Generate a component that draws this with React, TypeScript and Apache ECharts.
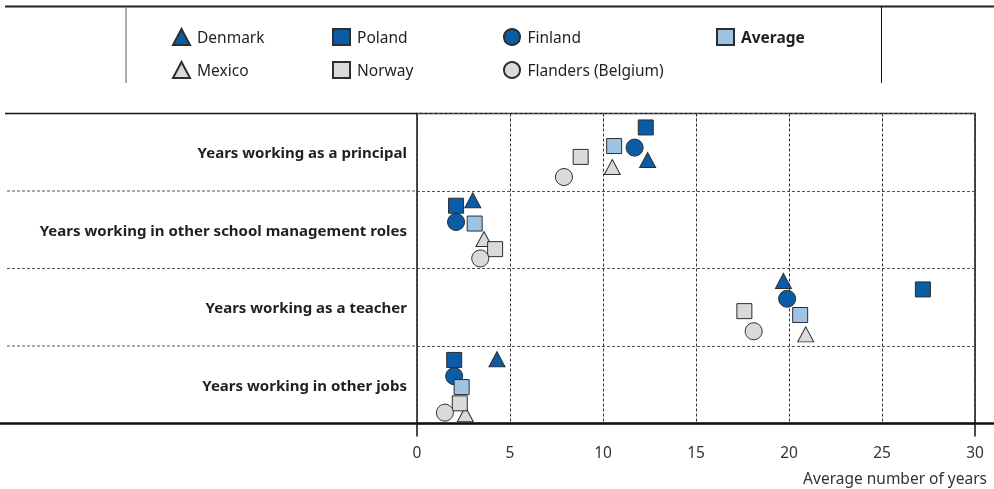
import React, { useEffect, useRef } from "react";
import * as echarts from "echarts";

const categories = [
  "Years working as a principal",
  "Years working in other school management roles",
  "Years working as a teacher",
  "Years working in other jobs",
];

const seriesNames = ["Denmark", "Poland", "Finland", "Average", "Mexico", "Norway", "Flanders (Belgium)"];

// values per category (years)
const denmark = [12.4, 3.0, 19.7, 4.3];
const poland = [12.3, 2.1, 27.2, 2.0];
const finland = [11.7, 2.1, 19.9, 2.0];
const average = [10.6, 3.1, 20.6, 2.4];
const mexico = [10.5, 3.6, 20.9, 2.6];
const norway = [8.8, 4.2, 17.6, 2.3];
const flanders = [7.9, 3.4, 18.1, 1.5];

// vertical jitter within each category band (fraction of the band)
const denmarkJitter = [0.6, 0.12, 0.16, 0.17];
const polandJitter = [0.18, 0.19, 0.27, 0.18];
const finlandJitter = [0.44, 0.4, 0.39, 0.39];
const averageJitter = [0.42, 0.42, 0.6, 0.53];
const mexicoJitter = [0.69, 0.62, 0.85, 0.88];
const norwayJitter = [0.56, 0.75, 0.55, 0.74];
const flandersJitter = [0.82, 0.87, 0.81, 0.86];

const xTicks = [0, 5, 10, 15, 20, 25, 30];

const DARK = "#0a5ca6";
const LIGHTBLUE = "#9ec3e4";
const GRAY = "#d9dadb";
const EDGE = "#2e2e2e";
const FONT = "Noto Sans";

export default function App() {
  const ref = useRef<HTMLDivElement>(null);
  useEffect(() => {
    if (!ref.current) return;
    const chart = echarts.init(ref.current, undefined, { renderer: "svg" });
    const gridTop = 113.5;
    const gridBottom = 423.5;
    const gridLeft = 417;
    const gridRight = 975;
    const band = (gridBottom - gridTop) / categories.length;

    const defs = [
      { name: seriesNames[0], vals: denmark, jit: denmarkJitter, symbol: "triangle", size: [16, 15], color: DARK },
      { name: seriesNames[1], vals: poland, jit: polandJitter, symbol: "rect", size: 15, color: DARK },
      { name: seriesNames[2], vals: finland, jit: finlandJitter, symbol: "circle", size: 17, color: DARK },
      { name: seriesNames[3], vals: average, jit: averageJitter, symbol: "rect", size: 15, color: LIGHTBLUE },
      { name: seriesNames[4], vals: mexico, jit: mexicoJitter, symbol: "triangle", size: [16, 15], color: GRAY },
      { name: seriesNames[5], vals: norway, jit: norwayJitter, symbol: "rect", size: 15, color: GRAY },
      { name: seriesNames[6], vals: flanders, jit: flandersJitter, symbol: "circle", size: 17, color: GRAY },
    ];

    const series = defs.map((d) => ({
      name: d.name,
      type: "scatter",
      xAxisIndex: 0,
      yAxisIndex: 1,
      symbol: d.symbol,
      symbolSize: d.size,
      itemStyle: { color: d.color, borderColor: EDGE, borderWidth: 1, opacity: 1 },
      data: d.vals.map((v, i) => [v, i + d.jit[i]]),
      z: 5,
    }));

    const legendPos = [
      { left: 172, top: 28 },
      { left: 332, top: 28 },
      { left: 503, top: 28 },
      { left: 716, top: 28 },
      { left: 172, top: 61 },
      { left: 332, top: 61 },
      { left: 503, top: 61 },
    ];

    const legends = defs.map((d, i) => ({
      data: [d.name],
      left: legendPos[i].left,
      top: legendPos[i].top,
      orient: "horizontal",
      itemWidth: 17,
      itemHeight: 16,
      padding: 0,
      selectedMode: false,
      textStyle: {
        fontFamily: FONT,
        fontSize: 15.5,
        color: "#231f20",
        fontWeight: d.name === "Average" ? "bold" : "normal",
        padding: [0, 0, 0, 2],
      },
    }));

    const sepLines = [1, 2, 3].map((k) => ({
      type: "line",
      shape: { x1: 7, y1: gridTop + k * band, x2: gridLeft, y2: gridTop + k * band },
      style: { stroke: "#555", lineWidth: 1, lineDash: [3, 2] },
      silent: true,
    }));

    chart.setOption({
      animation: false,
      legend: legends,
      grid: {
        left: gridLeft,
        right: 994 - gridRight,
        top: gridTop,
        bottom: 489 - gridBottom,
        show: true,
        borderColor: "#111",
        borderWidth: 1.5,
        backgroundColor: "transparent",
      },
      xAxis: {
        type: "value",
        min: xTicks[0],
        max: xTicks[xTicks.length - 1],
        interval: 5,
        axisLine: { show: false },
        axisTick: { show: true, length: 13, lineStyle: { color: "#333", type: [3, 2], width: 1 } },
        splitLine: { show: true, lineStyle: { color: "#333", type: [3, 2], width: 1 } },
        axisLabel: { margin: 20, fontFamily: FONT, fontSize: 15.5, color: "#333" },
      },
      yAxis: [
        {
          type: "category",
          data: categories,
          inverse: true,
          boundaryGap: true,
          axisLine: { show: false },
          axisTick: { show: false },
          splitLine: { show: true, lineStyle: { color: "#555", type: [3, 2], width: 1 } },
          axisLabel: {
            margin: 10,
            fontFamily: FONT,
            fontSize: 15,
            fontWeight: "bold",
            color: "#231f20",
          },
        },
        {
          type: "value",
          min: 0,
          max: categories.length,
          inverse: true,
          show: false,
        },
      ],
      graphic: [
        // legend frame
        { type: "line", shape: { x1: 5, y1: 6.5, x2: 994, y2: 6.5 }, style: { stroke: "#222", lineWidth: 2 }, silent: true },
        { type: "line", shape: { x1: 126, y1: 6.5, x2: 126, y2: 83 }, style: { stroke: "#777", lineWidth: 1.2 }, silent: true },
        { type: "line", shape: { x1: 881.5, y1: 6.5, x2: 881.5, y2: 83 }, style: { stroke: "#111", lineWidth: 1 }, silent: true },
        // plot frame extensions
        { type: "line", shape: { x1: 5, y1: gridTop, x2: gridLeft, y2: gridTop }, style: { stroke: "#111", lineWidth: 1.5 }, silent: true },
        { type: "line", shape: { x1: 0, y1: gridBottom, x2: 994, y2: gridBottom }, style: { stroke: "#111", lineWidth: 2.5 }, silent: true, z: 10 },
        { type: "line", shape: { x1: gridLeft, y1: gridBottom, x2: gridLeft, y2: gridBottom + 13 }, style: { stroke: "#111", lineWidth: 1.5 }, silent: true },
        { type: "line", shape: { x1: gridRight, y1: gridBottom, x2: gridRight, y2: gridBottom + 13 }, style: { stroke: "#111", lineWidth: 1.5 }, silent: true },
        ...sepLines,
        {
          type: "text",
          x: 987,
          y: 478,
          style: {
            text: "Average number of years",
            fontFamily: FONT,
            fontSize: 15.5,
            fill: "#333",
            align: "right",
            verticalAlign: "middle",
          },
          silent: true,
        },
      ],
      series,
    });
    return () => chart.dispose();
  }, []);
  return <div ref={ref} style={{ position: "fixed", left: 0, top: 0, width: 994, height: 489 }} />;
}
